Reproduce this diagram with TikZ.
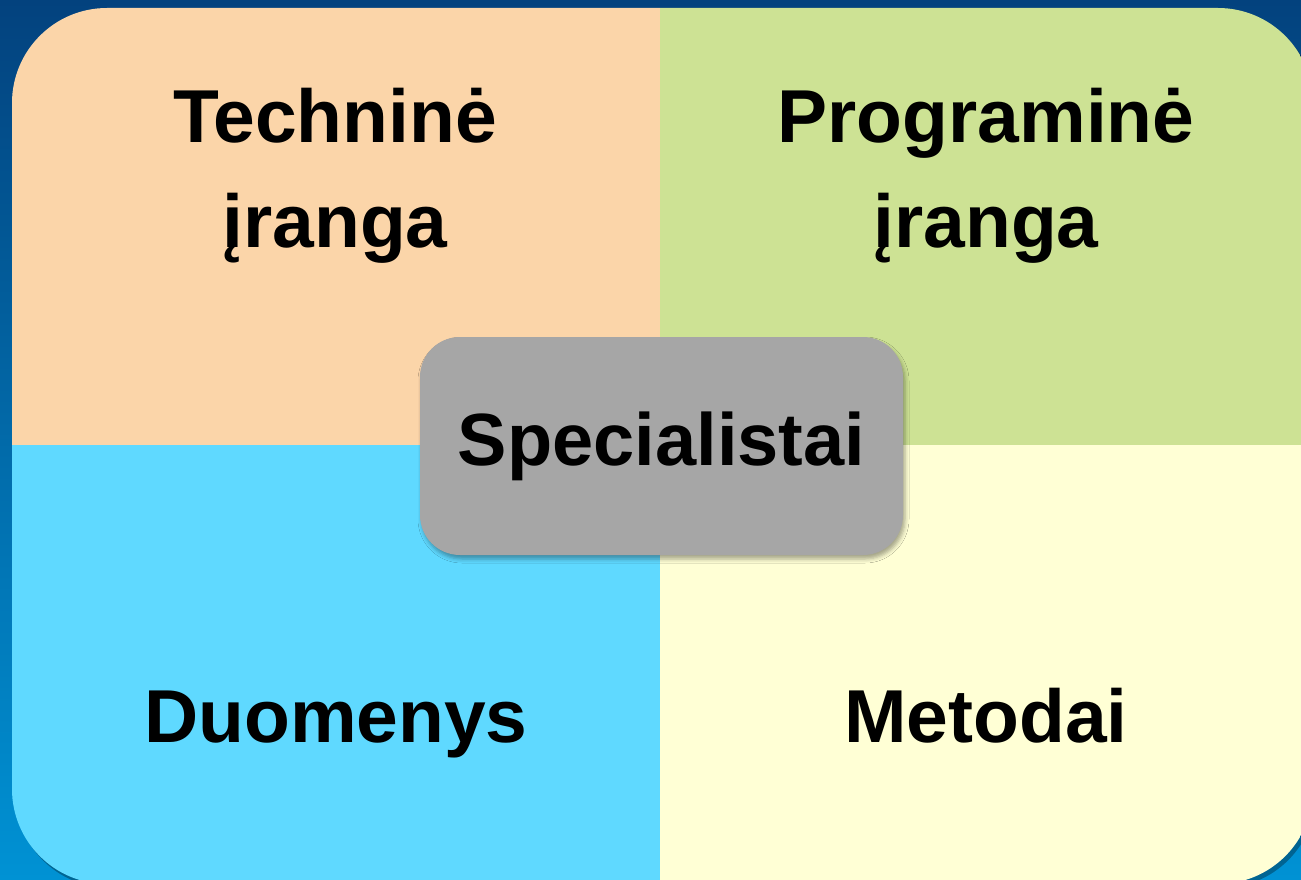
\documentclass[tikz,border=0pt]{standalone}
\usepackage{fontspec}
\setmainfont{Liberation Sans}
\usetikzlibrary{shadows.blur}
\definecolor{bgtop}{RGB}{3,66,126}
\definecolor{bgbot}{RGB}{0,146,212}
\definecolor{peach}{RGB}{251,213,169}
\definecolor{leaf}{RGB}{205,226,148}
\definecolor{sky}{RGB}{95,217,255}
\definecolor{cream}{RGB}{255,255,213}
\definecolor{stone}{RGB}{166,166,166}
\begin{document}
\begin{tikzpicture}[x=1pt,y=-1pt,
  lbl/.style={font=\fontsize{75}{105}\selectfont\bfseries, align=center, anchor=base, inner sep=0pt},
  centerbox/.style={fill=stone, rounded corners=40pt, minimum width=483pt, minimum height=218pt,
    font=\fontsize{74}{90}\selectfont\bfseries,
    blur shadow={shadow xshift=2pt, shadow yshift=-4pt, shadow blur radius=4pt, shadow opacity=35}}]
\useasboundingbox (0,0) rectangle (1301,880);
\shade[top color=bgtop, bottom color=bgbot] (0,0) rectangle (1301,880);
% shadow of the big panel
\fill[black, opacity=.3, rounded corners=95pt] (15,12) rectangle (1316,888);
\begin{scope}
  \clip[rounded corners=95pt] (12,8) rectangle (1313,884);
  \fill[peach] (0,0) rectangle (660,445);
  \fill[leaf] (660,0) rectangle (1320,445);
  \fill[sky] (0,445) rectangle (660,890);
  \fill[cream] (660,445) rectangle (1320,890);
\end{scope}
\node[lbl] (tech) at (335,247) {Techninė\\įranga};
\node[lbl] (prog) at (986,247) {Programinė\\įranga};
\node[lbl] (data) at (336,742) {Duomenys};
\node[lbl] (meth) at (986,742) {Metodai};
\node[centerbox] (spec) at (661.5,446) {Specialistai};
\end{tikzpicture}
\end{document}
